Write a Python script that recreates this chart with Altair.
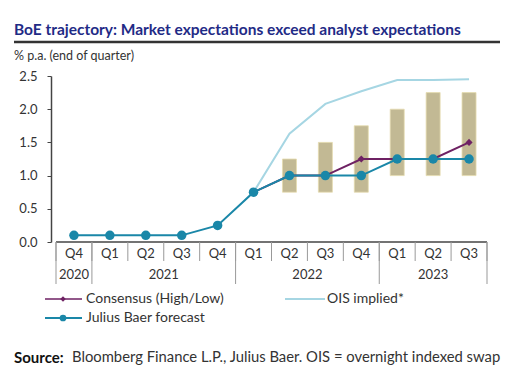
import altair as alt
import pandas as pd

quarters = ["Q4", "Q1", "Q2", "Q3", "Q4", "Q1", "Q2", "Q3", "Q4", "Q1", "Q2", "Q3"]
year_labels = ["2020", "2021", "2022", "2023"]
year_centers = [0, 2.5, 6.5, 10]
year_bounds = [-0.5, 0.5, 4.5, 8.5, 11.5]

jb = [0.1, 0.1, 0.1, 0.1, 0.25, 0.75, 1.0, 1.0, 1.0, 1.25, 1.25, 1.25]
cons_idx = [5, 6, 7, 8, 9, 10, 11]
cons = [0.75, 1.0, 1.0, 1.25, 1.25, 1.25, 1.5]
range_idx = [6, 7, 8, 9, 10, 11]
range_low = [0.75, 0.75, 0.75, 1.0, 1.0, 1.0]
range_high = [1.25, 1.5, 1.75, 2.0, 2.25, 2.25]
ois_idx = [5, 6, 7, 8, 9, 10, 11]
ois = [0.75, 1.63, 2.08, 2.27, 2.44, 2.44, 2.45]

W, H = 441, 166
FONT = "Lato"
TXT = "#333333"
C_JB = "#1a87a8"
C_CONS = "#6e2163"
C_OIS = "#a6d6e3"
C_BAR = "#c2b994"

xs = alt.Scale(domain=[-0.5, 11.5], nice=False, zero=False)
ys = alt.Scale(domain=[0, 2.5], nice=False, zero=True)
yaxis = alt.Axis(values=[0, 0.5, 1, 1.5, 2, 2.5], format=".1f", title=None, grid=False,
                 domainColor="#444", domainWidth=1.5, tickColor="#444", tickSize=4,
                 labelFontSize=13, labelColor=TXT, labelPadding=10, labelFont=FONT)

df_jb = pd.DataFrame({"i": list(range(len(jb))), "v": jb})
df_cons = pd.DataFrame({"i": cons_idx, "v": cons})
df_rng = pd.DataFrame({"i": range_idx, "lo": range_low, "hi": range_high})
df_ois = pd.DataFrame({"i": ois_idx, "v": ois})
df_q = pd.DataFrame({"i": list(range(len(quarters))), "q": quarters})
df_y = pd.DataFrame({"i": year_centers, "y": year_labels})
df_qsep = pd.DataFrame({"i": [k - 0.5 for k in range(len(quarters) + 1)]})
df_ysep = pd.DataFrame({"i": year_bounds})
df_xl = pd.DataFrame({"i": [-0.5], "i2": [11.5]})


def X(f="i:Q"):
    return alt.X(f, scale=xs, axis=None)


bars = alt.Chart(df_rng).mark_bar(size=14, color=C_BAR, stroke="#e6dcae", strokeWidth=0.8).encode(
    x=X(), y=alt.Y("lo:Q", scale=ys, axis=yaxis), y2="hi:Q")
ois_line = alt.Chart(df_ois).mark_line(color=C_OIS, strokeWidth=2).encode(
    x=X(), y=alt.Y("v:Q", scale=ys, axis=yaxis))
cons_line = alt.Chart(df_cons).mark_line(color=C_CONS, strokeWidth=2).encode(
    x=X(), y=alt.Y("v:Q", scale=ys, axis=yaxis))
cons_pts = alt.Chart(df_cons).mark_point(shape="diamond", filled=True, size=50, color=C_CONS, opacity=1).encode(
    x=X(), y=alt.Y("v:Q", scale=ys, axis=yaxis))
jb_line = alt.Chart(df_jb).mark_line(color=C_JB, strokeWidth=2).encode(
    x=X(), y=alt.Y("v:Q", scale=ys, axis=yaxis))
jb_pts = alt.Chart(df_jb).mark_circle(size=90, color=C_JB, opacity=1).encode(
    x=X(), y=alt.Y("v:Q", scale=ys, axis=yaxis))

xline = alt.Chart(df_xl).mark_rule(color="#444", strokeWidth=1.5).encode(
    x=X(), x2="i2:Q", y=alt.value(H))
qsep = alt.Chart(df_qsep).mark_rule(color="#999", strokeWidth=1).encode(
    x=X(), y=alt.value(H), y2=alt.value(H + 19))
ysep = alt.Chart(df_ysep).mark_rule(color="#999", strokeWidth=1).encode(
    x=X(), y=alt.value(H), y2=alt.value(H + 42))
qlab = alt.Chart(df_q).mark_text(font=FONT, fontSize=13, color=TXT, baseline="middle").encode(
    x=X(), y=alt.value(H + 12), text="q:N")
ylab = alt.Chart(df_y).mark_text(font=FONT, fontSize=13, color=TXT, baseline="middle").encode(
    x=X(), y=alt.value(H + 33), text="y:N")


def txt(s, x, y, size=13, weight="normal", color=TXT):
    d = pd.DataFrame({"t": [s]})
    return alt.Chart(d).mark_text(font=FONT, fontSize=size, fontWeight=weight, color=color,
                                  align="left", baseline="middle").encode(
        x=alt.value(x), y=alt.value(y), text="t:N")


def seg(x1, x2, y, color, w=2):
    d = pd.DataFrame({"t": ["s"]})
    return alt.Chart(d).mark_rule(color=color, strokeWidth=w).encode(
        x=alt.value(x1), x2=alt.value(x2), y=alt.value(y), detail="t:N")


def pt(x, y, shape, size, color):
    d = pd.DataFrame({"t": ["p"]})
    return alt.Chart(d).mark_point(shape=shape, filled=True, size=size, color=color, opacity=1).encode(
        x=alt.value(x), y=alt.value(y), detail="t:N")


title = txt("BoE trajectory: Market expectations exceed analyst expectations", -37, -46, 15.5, "bold", "#1f2b86")
title_rule = seg(-37, 449, -34, "#333", 2.5)
unit = txt("% p.a. (end of quarter)", -37, -20, 12.5)

legend = [
    seg(-6, 31, 223, C_CONS, 1.5), pt(12, 223, "diamond", 30, C_CONS),
    txt("Consensus (High/Low)", 35, 223, 14),
    seg(234, 274, 223, C_OIS, 2), txt("OIS implied*", 276, 223, 14),
    seg(-6, 31, 242, C_JB, 2), pt(12, 242, "circle", 45, C_JB),
    txt("Julius Baer forecast", 35, 242, 14),
]
source = [txt("Source:", -37, 282, 15, "bold", "#111"),
          txt("Bloomberg Finance L.P., Julius Baer. OIS = overnight indexed swap", 21, 282, 14.8)]

chart = alt.layer(
    bars, ois_line, cons_line, cons_pts, jb_line, jb_pts,
    xline, qsep, ysep, qlab, ylab,
    title, title_rule, unit, *legend, *source
).properties(
    width=W, height=H,
    padding={"left": 43, "top": 68, "right": 16, "bottom": 133},
    autosize=alt.AutoSizeParams(type="none"),
).configure_view(stroke=None)

chart.save("out.html", embed_options={"renderer": "svg", "actions": False})
